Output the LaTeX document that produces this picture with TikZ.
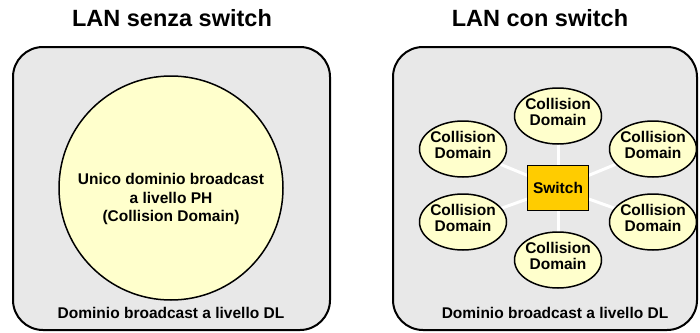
\documentclass[tikz,border=0pt]{standalone}
\usepackage{fontspec}
\setmainfont{Liberation Sans}
\usetikzlibrary{shapes.geometric}
\definecolor{boxgray}{HTML}{E8E8E8}
\definecolor{paleyellow}{HTML}{FFFFCC}
\definecolor{switchorange}{HTML}{FFCC00}
\tikzset{
  titletext/.style={font=\bfseries\fontsize{23.5}{26}\selectfont, inner sep=0pt},
  bodytext/.style={font=\bfseries\fontsize{15.5}{18.5}\selectfont, align=center, inner sep=0pt},
  lanbox/.style={draw=black, line width=2pt, fill=boxgray, rounded corners=30pt},
  cdomain/.style={ellipse, draw=black, line width=1.5pt, fill=paleyellow, minimum width=87pt, minimum height=56pt, inner sep=-6pt, text depth=8pt, align=center, font=\bfseries\fontsize{15.5}{16.5}\selectfont},
  switchbox/.style={draw=black, line width=1.5pt, fill=switchorange, minimum width=61pt, minimum height=45pt, inner sep=0pt, font=\bfseries\fontsize{15.5}{18}\selectfont},
  spoke/.style={draw=white, line width=3pt}
}
\begin{document}
\begin{tikzpicture}[x=1pt,y=-1pt]
\useasboundingbox (0,0) rectangle (700,332);
% titles
\node[titletext] (t1) at (172,18) {LAN senza switch};
\node[titletext] (t2) at (540,18) {LAN con switch};
% left LAN
\draw[lanbox] (13,47) rectangle (330,330);
\node[circle, draw=black, line width=1.5pt, fill=paleyellow, minimum size=224pt, inner sep=0pt] (cd) at (171,188) {};
\node[bodytext] (cdt) at (171,199) {Unico dominio broadcast\\a livello PH\\(Collision Domain)};
\node[bodytext] (bl) at (171,313) {Dominio broadcast a livello DL};
% right LAN
\draw[lanbox] (393,47) rectangle (697,330);
\coordinate (sc) at (558,188);
\coordinate (p1) at (558,116);
\coordinate (p2) at (463,149);
\coordinate (p3) at (653,149);
\coordinate (p4) at (463,222);
\coordinate (p5) at (653,222);
\coordinate (p6) at (558,260);
\foreach \p in {p1,p2,p3,p4,p5,p6} \draw[spoke] (sc) -- (\p);
\node[switchbox] (sw) at (sc) {Switch};
\node[cdomain] (c1) at (p1) {Collision\\Domain};
\node[cdomain] (c2) at (p2) {Collision\\Domain};
\node[cdomain] (c3) at (p3) {Collision\\Domain};
\node[cdomain] (c4) at (p4) {Collision\\Domain};
\node[cdomain] (c5) at (p5) {Collision\\Domain};
\node[cdomain] (c6) at (p6) {Collision\\Domain};
\node[bodytext] (br) at (555,313) {Dominio broadcast a livello DL};
\end{tikzpicture}
\end{document}
